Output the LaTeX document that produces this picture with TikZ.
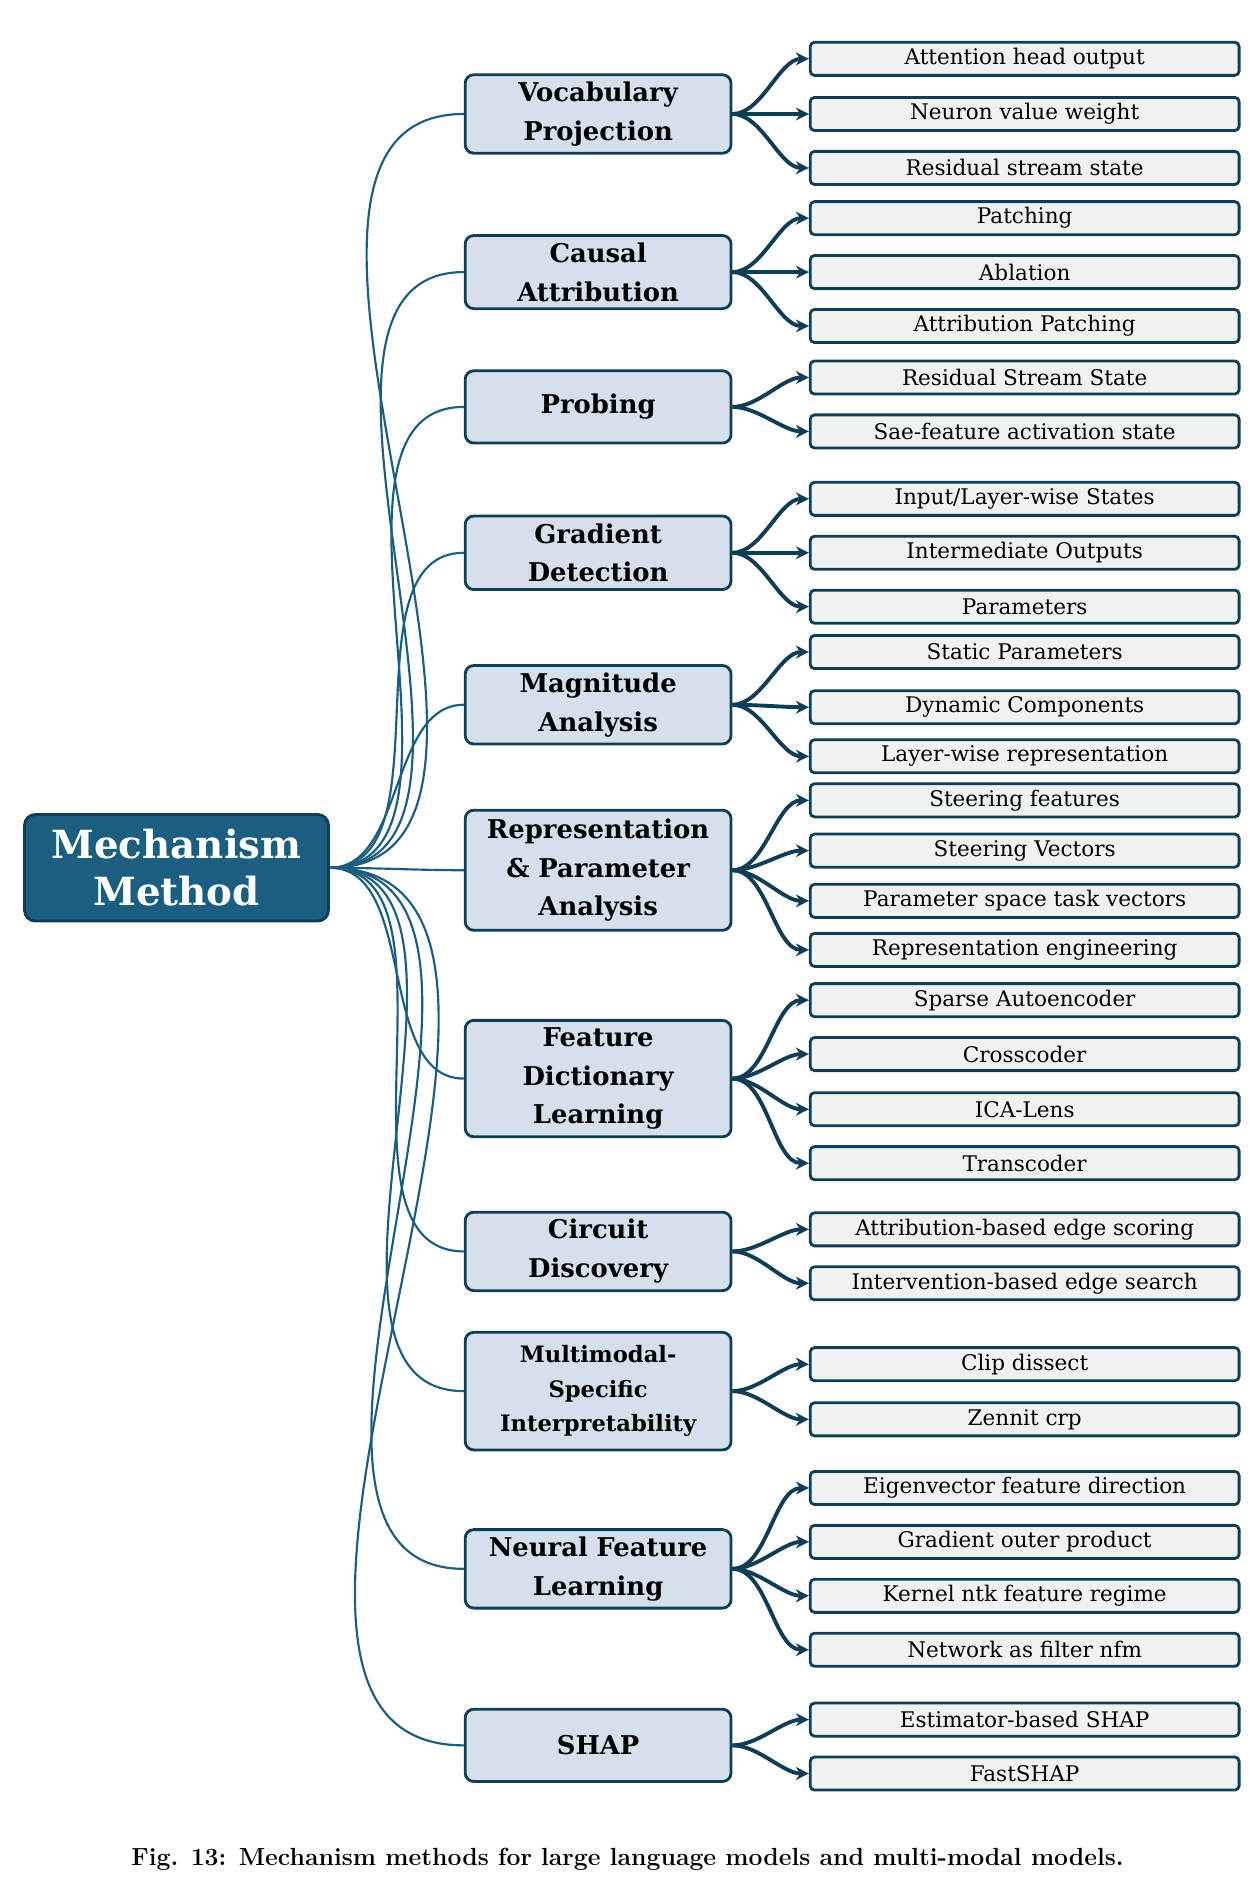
\documentclass[tikz,border=0pt]{standalone}
\usepackage{fontspec}
\setmainfont{DejaVu Serif}
\newfontfamily\capfont{Latin Modern Roman}
\usetikzlibrary{arrows.meta}
\definecolor{rootc}{HTML}{1B5E80}
\definecolor{dark}{HTML}{0E3D55}
\definecolor{midc}{HTML}{D5E0EC}
\definecolor{leafc}{HTML}{EEF3F1}
\begin{document}
\begin{tikzpicture}[x=0.02cm,y=-0.02cm,
 rootbox/.style={draw=dark,fill=rootc,rounded corners=5pt,line width=1.3pt,minimum width=4.96cm,minimum height=1.74cm,align=center,text=white,font=\fontsize{18}{22}\selectfont\bfseries},
 midbox/.style={draw=dark,fill=midc,rounded corners=4pt,line width=1.3pt,minimum width=4.34cm,text width=4.1cm,align=center,font=\fontsize{12}{18}\selectfont\bfseries},
 leafbox/.style={draw=dark,fill=leafc,rounded corners=2pt,line width=1.3pt,minimum width=7cm,minimum height=0.54cm,inner sep=0pt,font=\fontsize{10}{12}\selectfont},
 rootline/.style={draw=rootc,line width=1pt},
 leafline/.style={draw=dark,line width=1.8pt,-{Stealth[length=6pt,width=6pt]}}]
\useasboundingbox (0,0) rectangle (1024,1551);
\node[rootbox] (root) at (144,708) {Mechanism\\Method};
\foreach \n/\y/\h/\t in {
 m1/93/60/{Vocabulary\\Projection},
 m2/222/59/{Causal\\Attribution},
 m3/332/59/{Probing},
 m4/451/60/{Gradient\\Detection},
 m5/575/59/{Magnitude\\Analysis},
 m6/710/98/{Representation\\\& Parameter\\Analysis},
 m7/880/88/{Feature\\Dictionary\\Learning},
 m8/1021/60/{Circuit\\Discovery},
 m10/1280/60/{Neural Feature\\Learning},
 m11/1424/59/{SHAP}}{
 \node[midbox,minimum height=\h*0.02cm] (\n) at (488,\y) {\t};
 \draw[rootline] (root.east) to[out=0,in=180,looseness=0.9] (\n.west);
}
\node[midbox,minimum height=1.92cm,font=\fontsize{10.5}{16}\selectfont\bfseries] (m9) at (488,1135) {Multimodal-\\Specific\\Interpretability};
\draw[rootline] (root.east) to[out=0,in=180,looseness=0.9] (m9.west);
\foreach \m/\n/\y/\t in {
 m1/l1a/48/{Attention head output}, m1/l1b/93/{Neuron value weight}, m1/l1c/137/{Residual stream state},
 m2/l2a/178/{Patching}, m2/l2b/222/{Ablation}, m2/l2c/266/{Attribution Patching},
 m3/l3a/308/{Residual Stream State}, m3/l3b/352/{Sae-feature activation state},
 m4/l4a/407/{Input/Layer-wise States}, m4/l4b/451/{Intermediate Outputs}, m4/l4c/495/{Parameters},
 m5/l5a/532/{Static Parameters}, m5/l5b/577/{Dynamic Components}, m5/l5c/617/{Layer-wise representation},
 m6/l6a/653/{Steering features}, m6/l6b/694/{Steering Vectors}, m6/l6c/735/{Parameter space task vectors}, m6/l6d/775/{Representation engineering},
 m7/l7a/816/{Sparse Autoencoder}, m7/l7b/860/{Crosscoder}, m7/l7c/905/{ICA-Lens}, m7/l7d/949/{Transcoder},
 m8/l8a/1003/{Attribution-based edge scoring}, m8/l8b/1047/{Intervention-based edge search},
 m9/l9a/1113/{Clip dissect}, m9/l9b/1158/{Zennit crp},
 m10/l10a/1214/{Eigenvector feature direction}, m10/l10b/1258/{Gradient outer product}, m10/l10c/1302/{Kernel ntk feature regime}, m10/l10d/1346/{Network as filter nfm},
 m11/l11a/1403/{Estimator-based SHAP}, m11/l11b/1447/{FastSHAP}}{
 \node[leafbox] (\n) at (836,\y) {\t};
 \draw[leafline] (\m.east) to[out=0,in=180,looseness=0.8] (\n.west);
}
\node[font=\capfont\fontsize{11.5}{14}\selectfont\bfseries] (cap) at (512,1517) {Fig. 13: Mechanism methods for large language models and multi-modal models.};
\end{tikzpicture}
\end{document}
